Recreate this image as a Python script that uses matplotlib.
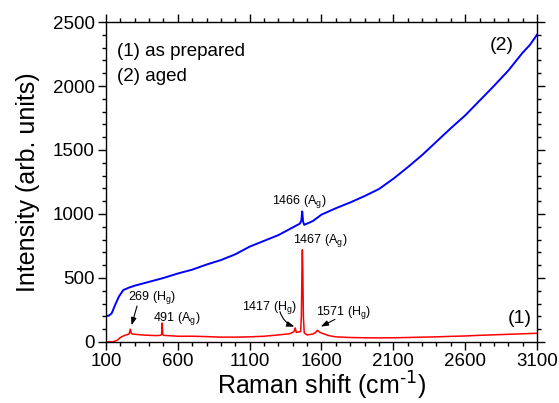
import matplotlib
matplotlib.use("Agg")
import matplotlib.pyplot as plt
from matplotlib.ticker import MultipleLocator

plt.rcParams["font.family"] = ["Liberation Sans", "DejaVu Sans"]
plt.rcParams["mathtext.default"] = "regular"

# Spectrum (1): as prepared
shift_1 = [100, 150, 180, 200, 230, 255, 262, 269, 276, 285, 350, 400, 450, 480, 487,
           491, 495, 500, 600, 700, 800, 900, 1000, 1100, 1200, 1300, 1380, 1408,
           1417, 1425, 1455, 1460, 1464, 1467, 1470, 1474, 1480, 1500, 1540, 1560,
           1571, 1585, 1600, 1650, 1700, 1800, 1900, 2000, 2100, 2200, 2300, 2400,
           2500, 2600, 2700, 2800, 2900, 3000, 3100]
intensity_1 = [0, 2, 15, 35, 52, 60, 66, 100, 68, 62, 55, 52, 50, 52, 60,
               148, 60, 52, 45, 45, 42, 38, 38, 40, 45, 55, 65, 80,
               110, 75, 82, 200, 560, 720, 560, 200, 70, 55, 62, 75,
               92, 78, 70, 50, 40, 35, 33, 32, 33, 35, 38, 40,
               44, 47, 52, 56, 60, 64, 68]

# Spectrum (2): aged
shift_2 = [100, 120, 140, 160, 190, 220, 260, 300, 400, 500, 600, 700, 800, 900,
           1000, 1100, 1200, 1300, 1400, 1450, 1460, 1466, 1472, 1480, 1540, 1600,
           1700, 1800, 1900, 2000, 2100, 2200, 2300, 2400, 2500, 2600, 2700, 2800,
           2900, 3000, 3050, 3100]
intensity_2 = [205, 205, 225, 280, 355, 405, 425, 440, 470, 500, 535, 565, 605, 640,
               685, 745, 790, 835, 895, 925, 950, 1020, 940, 915, 945, 995,
               1045, 1090, 1140, 1195, 1275, 1365, 1460, 1565, 1670, 1770, 1885, 2000,
               2120, 2260, 2320, 2400]

x_ticks = [100, 600, 1100, 1600, 2100, 2600, 3100]
y_ticks = [0, 500, 1000, 1500, 2000, 2500]

fig = plt.figure(figsize=(5.59, 4.03), dpi=100)
ax = fig.add_axes([0.1896, 0.1514, 0.771, 0.794])

ax.plot(shift_2, intensity_2, color="#0000ff", lw=1.4)
ax.plot(shift_1, intensity_1, color="#ff0000", lw=1.1)

ax.set_xlim(100, 3100)
ax.set_ylim(0, 2500)
ax.set_xticks(x_ticks)
ax.set_yticks(y_ticks)
ax.xaxis.set_minor_locator(MultipleLocator(100))
ax.yaxis.set_minor_locator(MultipleLocator(100))
ax.tick_params(which="both", direction="out", top=True, right=True,
               labeltop=False, labelright=False, width=1.0, labelsize=13.5)
ax.tick_params(which="major", length=6, pad=2)
ax.tick_params(which="minor", length=3)
for s in ax.spines.values():
    s.set_linewidth(1.0)

ax.set_xlabel(r"Raman shift (cm$^{\text{-1}}$)", fontsize=18, labelpad=0)
ax.set_ylabel("Intensity (arb. units)", fontsize=18, labelpad=9)

ax.text(177, 2266, "(1) as prepared", fontsize=13.5, va="center", ha="left")
ax.text(177, 2078, "(2) aged", fontsize=13.5, va="center", ha="left")
ax.text(2856, 2320, "(2)", fontsize=14, va="center", ha="center")
ax.text(2981, 187, "(1)", fontsize=14, va="center", ha="center")

fs = 9
head = "-|>,head_length=0.45,head_width=0.16"


def arrow(tip, start, rad=0.0):
    ax.annotate("", xy=tip, xytext=start,
                arrowprops=dict(arrowstyle=head, color="black", lw=0.8,
                                shrinkA=0, shrinkB=0,
                                connectionstyle=f"arc3,rad={rad}"))


ax.text(420, 344, "269 (H$_g$)", fontsize=fs, ha="center", va="center")
arrow((278, 130), (316, 281))
ax.text(594, 180, "491 (A$_g$)", fontsize=fs, ha="center", va="center")
ax.text(1241, 273, "1417 (H$_g$)", fontsize=fs, ha="center", va="center")
arrow((1412, 120), (1311, 237), rad=0.25)
ax.text(1590, 790, "1467 (A$_g$)", fontsize=fs, ha="center", va="center")
ax.text(1756, 234, "1571 (H$_g$)", fontsize=fs, ha="center", va="center")
arrow((1595, 120), (1694, 177))
ax.text(1443, 1094, "1466 (A$_g$)", fontsize=fs, ha="center", va="center")

fig.savefig("out.png", dpi=100)
